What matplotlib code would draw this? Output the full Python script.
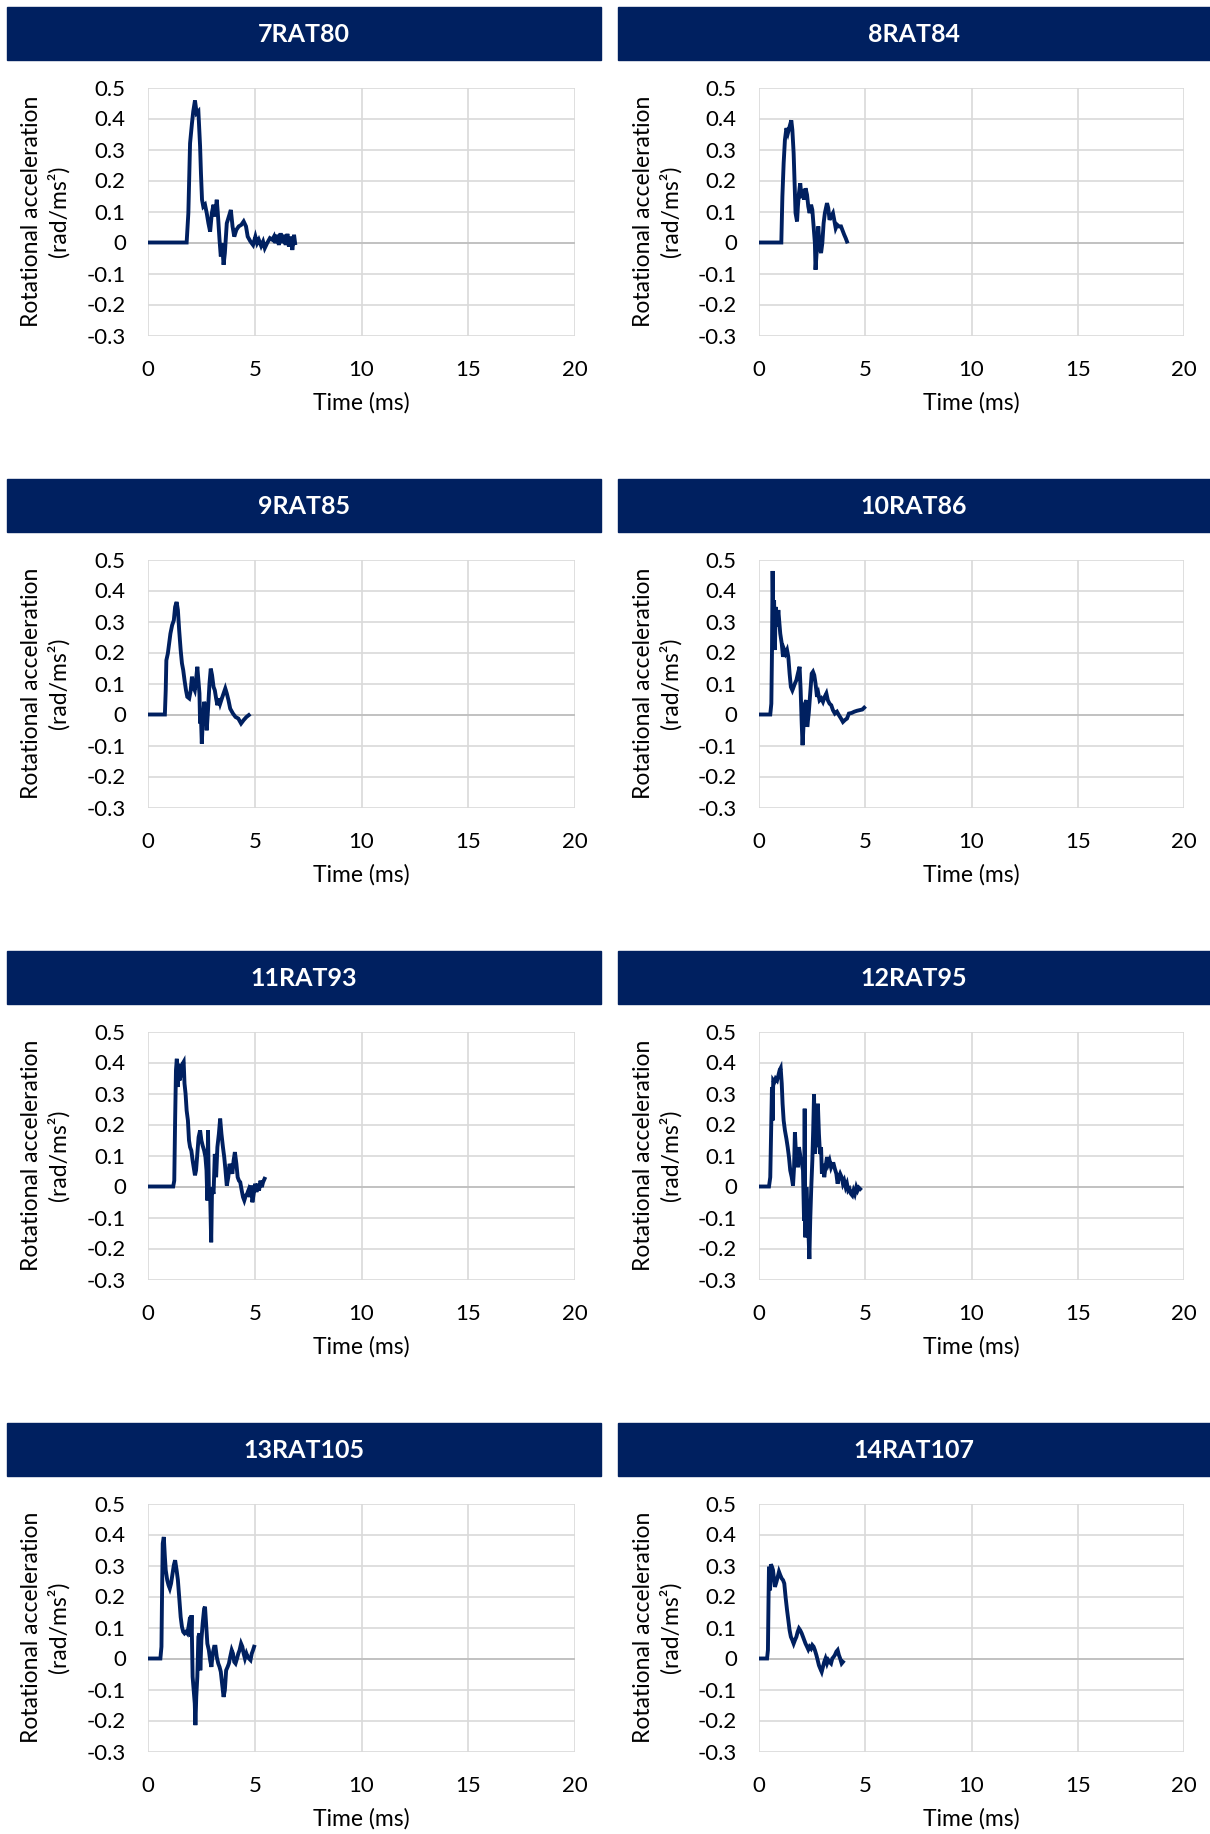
import matplotlib
matplotlib.use('Agg')
import matplotlib.pyplot as plt
from matplotlib.patches import Rectangle

plt.rcParams['font.family'] = ['Lato', 'DejaVu Sans']
plt.rcParams['axes.unicode_minus'] = False

# traces: time (ms) and rotational acceleration (rad/ms^2)
t_7rat80 = [0, 1.81, 1.89, 1.97, 2.06, 2.12, 2.20, 2.28, 2.36, 2.44, 2.48, 2.53, 2.59, 2.67, 2.75, 2.83,
            2.91, 2.99, 3.07, 3.14, 3.22, 3.27, 3.35, 3.41, 3.47, 3.54, 3.60, 3.69, 3.81, 3.88, 3.96, 4.04,
            4.14, 4.25, 4.37, 4.48, 4.59, 4.67, 4.80, 4.92, 5.03, 5.11, 5.19, 5.30, 5.39, 5.47, 5.58, 5.71,
            5.82, 5.90, 5.97, 6.05, 6.13, 6.21, 6.29, 6.37, 6.45, 6.53, 6.60, 6.68, 6.76, 6.84, 6.89]
a_7rat80 = [0, 0, 0.095, 0.320, 0.385, 0.423, 0.458, 0.417, 0.423, 0.310, 0.224, 0.138, 0.116, 0.122, 0.095, 0.062,
            0.035, 0.095, 0.122, 0.084, 0.138, 0.095, 0.009, -0.045, -0.002, -0.072, -0.034, 0.062, 0.089, 0.105, 0.052, 0.019,
            0.041, 0.052, 0.057, 0.068, 0.052, 0.019, 0.003, -0.008, 0.019, -0.002, 0.009, -0.011, 0.003, -0.018, -0.002, 0.014,
            0.009, 0.019, -0.002, 0.025, -0.008, 0.030, -0.002, 0.025, -0.008, 0.028, -0.013, 0.019, -0.024, 0.025, -0.002]

t_8rat84 = [0, 1.05, 1.10, 1.16, 1.22, 1.29, 1.36, 1.44, 1.52, 1.57, 1.63, 1.68, 1.72, 1.79, 1.83, 1.88,
            1.94, 2.01, 2.07, 2.13, 2.19, 2.26, 2.32, 2.38, 2.45, 2.51, 2.57, 2.63, 2.66, 2.73, 2.79, 2.85,
            2.92, 2.98, 3.04, 3.10, 3.20, 3.26, 3.32, 3.39, 3.48, 3.54, 3.61, 3.68, 3.76, 3.86, 3.92, 4.01,
            4.08, 4.14]
a_8rat84 = [0, 0, 0.148, 0.256, 0.331, 0.369, 0.353, 0.374, 0.394, 0.363, 0.288, 0.181, 0.095, 0.068, 0.116, 0.159,
            0.191, 0.143, 0.170, 0.138, 0.175, 0.154, 0.116, 0.095, 0.122, 0.105, 0.052, -0.002, -0.088, -0.013, 0.052, -0.013,
            -0.034, -0.002, 0.062, 0.095, 0.127, 0.111, 0.073, 0.084, 0.095, 0.073, 0.046, 0.057, 0.052, 0.052, 0.041, 0.025,
            0.014, 0.003]

t_9rat85 = [0, 0.79, 0.83, 0.86, 0.93, 0.99, 1.05, 1.13, 1.21, 1.27, 1.34, 1.40, 1.46, 1.53, 1.59, 1.65,
            1.71, 1.78, 1.84, 1.93, 2.00, 2.06, 2.12, 2.19, 2.25, 2.31, 2.36, 2.41, 2.44, 2.48, 2.52, 2.56,
            2.63, 2.69, 2.75, 2.81, 2.88, 2.94, 3.00, 3.07, 3.13, 3.19, 3.25, 3.32, 3.38, 3.46, 3.54, 3.62,
            3.69, 3.77, 3.85, 3.98, 4.10, 4.23, 4.36, 4.48, 4.61, 4.72]
a_9rat85 = [0, 0, 0.078, 0.175, 0.197, 0.229, 0.261, 0.288, 0.304, 0.347, 0.363, 0.337, 0.272, 0.208, 0.165, 0.143,
            0.111, 0.078, 0.057, 0.052, 0.078, 0.122, 0.089, 0.078, 0.111, 0.154, 0.111, 0.068, -0.029, -0.008, -0.094, -0.029,
            0.041, 0.025, -0.051, 0.014, 0.100, 0.148, 0.127, 0.089, 0.078, 0.052, 0.030, 0.052, 0.035, 0.052, 0.068, 0.084,
            0.068, 0.046, 0.019, 0.003, -0.008, -0.013, -0.029, -0.018, -0.008, -0.002]

t_10rat86 = [0, 0.53, 0.58, 0.61, 0.64, 0.67, 0.71, 0.75, 0.78, 0.85, 0.91, 0.96, 1.00, 1.07, 1.13, 1.19,
             1.25, 1.32, 1.38, 1.44, 1.50, 1.57, 1.63, 1.69, 1.76, 1.83, 1.91, 1.96, 2.01, 2.05, 2.10, 2.16,
             2.23, 2.27, 2.34, 2.41, 2.48, 2.54, 2.60, 2.66, 2.73, 2.79, 2.85, 2.93, 3.01, 3.09, 3.17, 3.24,
             3.32, 3.40, 3.48, 3.57, 3.67, 3.76, 3.86, 3.95, 4.04, 4.14, 4.23, 4.36, 4.48, 4.61, 4.73, 4.86, 4.95]
a_10rat86 = [0, 0, 0.035, 0.197, 0.463, 0.315, 0.369, 0.208, 0.347, 0.283, 0.337, 0.294, 0.261, 0.229, 0.186, 0.208,
             0.197, 0.208, 0.186, 0.132, 0.089, 0.078, 0.089, 0.100, 0.111, 0.132, 0.154, 0.078, -0.029, -0.099, -0.029, 0.035,
             0.046, -0.040, 0.003, 0.068, 0.132, 0.138, 0.127, 0.100, 0.057, 0.068, 0.046, 0.052, 0.041, 0.057, 0.068, 0.046,
             0.035, 0.030, 0.014, 0.003, 0.009, -0.002, -0.013, -0.024, -0.018, -0.013, 0.003, 0.005, 0.009, 0.012, 0.014, 0.016, 0.022]

t_11rat93 = [0, 1.18, 1.23, 1.27, 1.31, 1.35, 1.40, 1.43, 1.48, 1.53, 1.57, 1.62, 1.67, 1.71, 1.76, 1.81,
             1.87, 1.92, 1.97, 2.03, 2.09, 2.14, 2.20, 2.25, 2.31, 2.37, 2.44, 2.50, 2.56, 2.63, 2.69, 2.74,
             2.78, 2.81, 2.85, 2.91, 2.96, 3.00, 3.07, 3.13, 3.19, 3.25, 3.32, 3.38, 3.44, 3.51, 3.57, 3.63,
             3.69, 3.76, 3.82, 3.88, 3.95, 4.01, 4.07, 4.14, 4.20, 4.26, 4.32, 4.39, 4.45, 4.51, 4.58, 4.64,
             4.70, 4.76, 4.83, 4.89, 4.95, 5.02, 5.08, 5.14, 5.20, 5.27, 5.33, 5.39, 5.46]
a_11rat93 = [0, 0, 0.019, 0.213, 0.375, 0.412, 0.321, 0.396, 0.342, 0.385, 0.353, 0.396, 0.402, 0.332, 0.299, 0.245,
             0.213, 0.149, 0.127, 0.116, 0.084, 0.062, 0.036, 0.052, 0.105, 0.159, 0.181, 0.149, 0.132, 0.116, 0.095, 0.052,
             -0.045, 0.181, -0.002, -0.024, -0.180, -0.002, -0.024, 0.105, 0.030, 0.127, 0.170, 0.219, 0.170, 0.127, 0.095, 0.052,
             0.003, 0.030, 0.073, 0.062, 0.041, 0.084, 0.111, 0.073, 0.030, 0.019, 0.014, -0.013, -0.034, -0.045, -0.029, -0.024,
             -0.013, -0.034, 0.003, -0.051, -0.024, 0.009, -0.018, 0.009, -0.013, 0.019, -0.002, 0.014, 0.025]

t_12rat95 = [0, 0.47, 0.53, 0.58, 0.61, 0.64, 0.67, 0.72, 0.78, 0.85, 0.91, 0.97, 1.02, 1.07, 1.11, 1.16,
             1.22, 1.29, 1.35, 1.41, 1.47, 1.54, 1.60, 1.65, 1.69, 1.74, 1.79, 1.83, 1.88, 1.93, 1.97, 2.02,
             2.07, 2.12, 2.15, 2.18, 2.23, 2.27, 2.32, 2.37, 2.41, 2.46, 2.51, 2.55, 2.59, 2.63, 2.68, 2.73,
             2.77, 2.82, 2.87, 2.92, 2.96, 3.01, 3.07, 3.13, 3.20, 3.26, 3.32, 3.39, 3.45, 3.51, 3.57, 3.64,
             3.70, 3.76, 3.82, 3.89, 3.95, 4.01, 4.08, 4.14, 4.20, 4.26, 4.33, 4.39, 4.45, 4.51, 4.58, 4.64,
             4.70, 4.76]
a_12rat95 = [0, 0, 0.030, 0.213, 0.321, 0.213, 0.342, 0.337, 0.348, 0.342, 0.358, 0.375, 0.382, 0.332, 0.267, 0.213,
             0.181, 0.154, 0.127, 0.095, 0.052, 0.030, 0.003, 0.062, 0.175, 0.105, 0.127, 0.062, 0.127, 0.105, 0.084, 0.073,
             0.052, -0.110, 0.251, -0.164, -0.002, -0.067, -0.131, -0.234, -0.110, -0.002, 0.084, 0.181, 0.297, 0.105, 0.213, 0.127,
             0.267, 0.170, 0.105, 0.127, 0.041, 0.073, 0.030, 0.062, 0.095, 0.073, 0.084, 0.062, 0.073, 0.073, 0.057, 0.041,
             0.009, 0.030, 0.041, 0.030, 0.009, 0.019, -0.002, 0.009, -0.013, -0.008, -0.024, -0.029, -0.013, -0.024, -0.002, -0.013,
             -0.004, -0.008]

t_13rat105 = [0, 0.58, 0.63, 0.66, 0.69, 0.74, 0.79, 0.83, 0.90, 0.96, 1.02, 1.08, 1.15, 1.21, 1.27, 1.34,
              1.40, 1.46, 1.53, 1.59, 1.65, 1.71, 1.78, 1.84, 1.90, 1.97, 2.01, 2.04, 2.09, 2.14, 2.19, 2.22,
              2.26, 2.31, 2.36, 2.41, 2.45, 2.50, 2.56, 2.63, 2.67, 2.72, 2.78, 2.85, 2.91, 2.97, 3.03, 3.10,
              3.16, 3.22, 3.29, 3.35, 3.41, 3.47, 3.54, 3.60, 3.66, 3.73, 3.79, 3.85, 3.92, 3.98, 4.04, 4.10,
              4.17, 4.23, 4.29, 4.36, 4.42, 4.48, 4.54, 4.61, 4.67, 4.73, 4.80, 4.86, 4.92, 4.97]
a_13rat105 = [0, 0, 0.038, 0.220, 0.371, 0.392, 0.328, 0.285, 0.253, 0.237, 0.226, 0.242, 0.274, 0.301, 0.317, 0.285,
              0.253, 0.199, 0.134, 0.102, 0.086, 0.081, 0.086, 0.081, 0.102, 0.134, 0.070, 0.140, -0.059, -0.102, -0.145, -0.215,
              -0.124, -0.059, 0.070, 0.081, -0.038, 0.059, 0.113, 0.161, 0.167, 0.113, 0.048, 0.027, -0.005, -0.027, 0.016, 0.038,
              0.038, 0.005, -0.016, -0.027, -0.043, -0.081, -0.124, -0.102, -0.038, -0.027, -0.016, 0.005, 0.027, 0.016, -0.011, -0.016,
              0, 0.016, 0.027, 0.048, 0.038, 0.016, 0, 0.016, 0.005, 0, -0.005, 0.016, 0.027, 0.038]

t_14rat107 = [0, 0.38, 0.42, 0.45, 0.47, 0.52, 0.56, 0.61, 0.66, 0.71, 0.75, 0.82, 0.88, 0.94, 1.00, 1.07,
              1.13, 1.19, 1.25, 1.32, 1.38, 1.44, 1.50, 1.57, 1.63, 1.69, 1.76, 1.82, 1.88, 1.94, 2.01, 2.07,
              2.13, 2.19, 2.26, 2.32, 2.38, 2.45, 2.51, 2.57, 2.63, 2.70, 2.76, 2.82, 2.88, 2.95, 3.01, 3.07,
              3.13, 3.20, 3.26, 3.32, 3.39, 3.45, 3.51, 3.57, 3.64, 3.70, 3.76, 3.82, 3.89, 3.95]
a_14rat107 = [0, 0, 0.027, 0.199, 0.296, 0.220, 0.304, 0.296, 0.285, 0.253, 0.231, 0.247, 0.263, 0.280, 0.269, 0.258,
              0.253, 0.242, 0.199, 0.156, 0.124, 0.091, 0.070, 0.059, 0.048, 0.059, 0.070, 0.086, 0.097, 0.091, 0.081, 0.070,
              0.059, 0.048, 0.038, 0.029, 0.038, 0.032, 0.043, 0.038, 0.027, 0.011, -0.005, -0.022, -0.032, -0.043, -0.027, -0.011,
              0, -0.016, -0.005, -0.011, -0.016, 0, 0.005, 0.011, 0.022, 0.027, 0.011, 0, -0.016, -0.011]

titles = ['7RAT80', '8RAT84', '9RAT85', '10RAT86', '11RAT93', '12RAT95', '13RAT105', '14RAT107']
times = [t_7rat80, t_8rat84, t_9rat85, t_10rat86, t_11rat93, t_12rat95, t_13rat105, t_14rat107]
accels = [a_7rat80, a_8rat84, a_9rat85, a_10rat86, a_11rat93, a_12rat95, a_13rat105, a_14rat107]

x_ticks = [0, 5, 10, 15, 20]
y_ticks = [-0.3, -0.2, -0.1, 0, 0.1, 0.2, 0.3, 0.4, 0.5]
y_ticklabels = ['-0.3', '-0.2', '-0.1', '0', '0.1', '0.2', '0.3', '0.4', '0.5']

navy = '#002060'
W, H = 1210, 1834
fig = plt.figure(figsize=(W / 100, H / 100), dpi=100)

col_ax = [(148, 427), (759, 425)]       # axes left, width in px
col_head = [(7, 594), (618, 592)]       # header left, width in px
row_step = 472

for i, name in enumerate(titles):
    r, c = divmod(i, 2)
    top = 87.5 + r * row_step
    ax_l, ax_w = col_ax[c]
    ax = fig.add_axes([ax_l / W, 1 - (top + 248) / H, ax_w / W, 248 / H])

    # dark blue header band with title
    hl, hw = col_head[c]
    htop = 7 + r * row_step
    fig.patches.append(Rectangle((hl / W, 1 - (htop + 53) / H), hw / W, 53 / H,
                                 transform=fig.transFigure, color=navy, zorder=0))
    fig.text((hl + hw / 2) / W, 1 - (htop + 28) / H, name, color='white',
             fontsize=18, fontweight='bold', ha='center', va='center')

    ax.plot(times[i], accels[i], color=navy, lw=2.8, zorder=3, solid_joinstyle='miter')
    ax.axhline(0, color='#bfbfbf', lw=1.3, zorder=2)

    ax.set_xlim(0, 20)
    ax.set_ylim(-0.3, 0.5)
    ax.set_xticks(x_ticks)
    ax.set_yticks(y_ticks)
    ax.set_yticklabels(y_ticklabels)
    ax.tick_params(length=0, labelsize=16, colors='black')
    ax.tick_params(axis='y', pad=16)
    ax.tick_params(axis='x', pad=18)
    ax.grid(True, color='#d9d9d9', lw=1.2, zorder=0)
    ax.set_axisbelow(True)
    for s in ax.spines.values():
        s.set_visible(False)

    ax.set_xlabel('Time (ms)', fontsize=16.5)
    ax.xaxis.set_label_coords(0.5, -0.27)
    ax.xaxis.label.set_va('center')
    ax.set_ylabel('Rotational acceleration\n(rad/ms²)', fontsize=16.5, linespacing=1.3)
    ax.yaxis.set_label_coords(-0.24, 0.5)
    ax.yaxis.label.set_va('center')
    ax.yaxis.label.set_ha('center')

plt.savefig('out.png', dpi=100)
